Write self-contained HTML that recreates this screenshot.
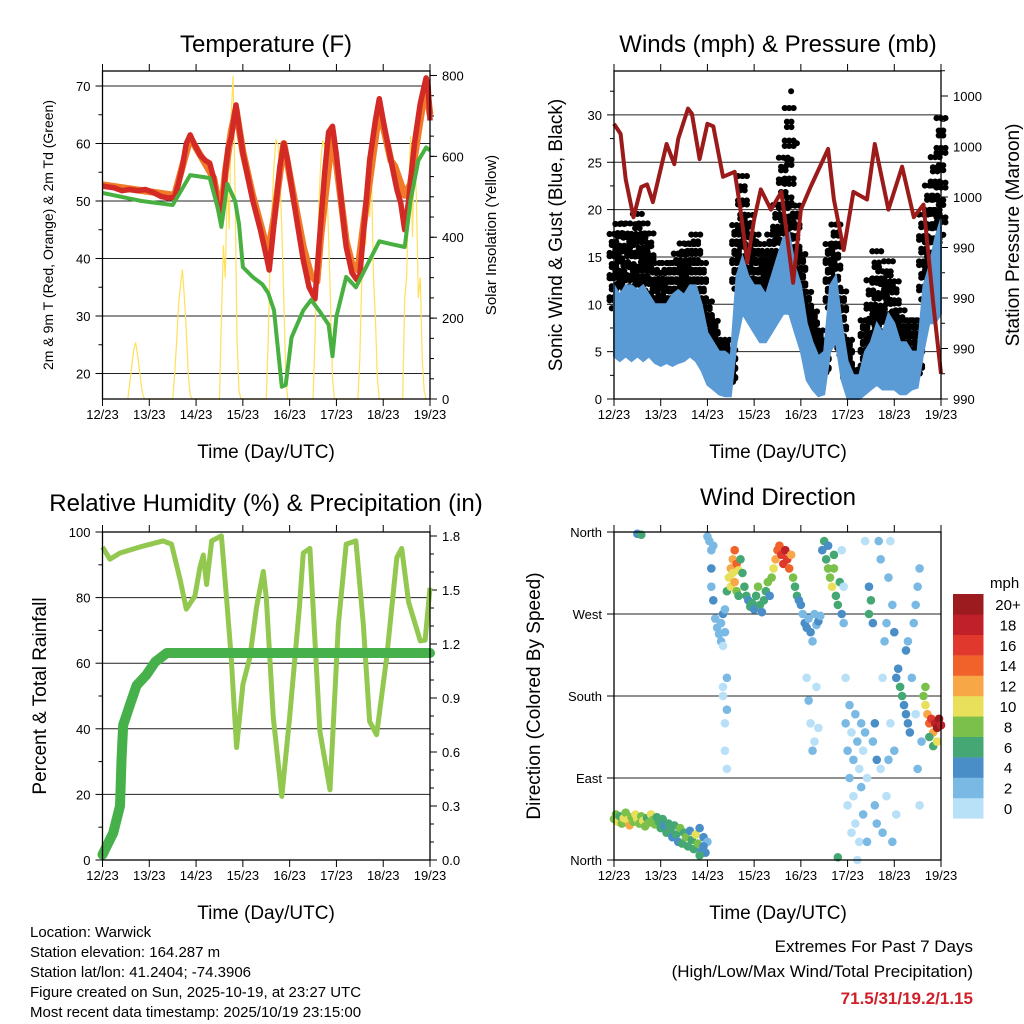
<!DOCTYPE html>
<html><head><meta charset="utf-8"><style>
html,body{margin:0;padding:0;background:#fff;}
svg{display:block;font-family:"Liberation Sans",sans-serif;}
</style></head><body>
<svg id="fig" width="1024" height="1024" viewBox="0 0 1024 1024" xmlns="http://www.w3.org/2000/svg">
<g id="titles" font-size="24" text-anchor="middle">
<text x="266" y="52">Temperature (F)</text>
<text x="778" y="52">Winds (mph) &amp; Pressure (mb)</text>
<text x="266" y="511">Relative Humidity (%) &amp; Precipitation (in)</text>
<text x="778" y="505">Wind Direction</text>
</g>
<g font-size="19" text-anchor="middle">
<text x="266" y="458">Time (Day/UTC)</text>
<text x="778" y="458">Time (Day/UTC)</text>
<text x="266" y="919">Time (Day/UTC)</text>
<text x="778" y="919">Time (Day/UTC)</text>
</g>
<text transform="translate(53,235) rotate(-90)" font-size="14" text-anchor="middle">2m &amp; 9m T (Red, Orange) &amp; 2m Td (Green)</text>
<text transform="translate(496,235) rotate(-90)" font-size="15" text-anchor="middle">Solar Insolation (Yellow)</text>
<text transform="translate(562,235) rotate(-90)" font-size="19" text-anchor="middle">Sonic Wind &amp; Gust (Blue, Black)</text>
<text transform="translate(1019,235) rotate(-90)" font-size="19" text-anchor="middle">Station Pressure (Maroon)</text>
<text transform="translate(46,696) rotate(-90)" font-size="19" text-anchor="middle">Percent &amp; Total Rainfall</text>
<text transform="translate(540,696) rotate(-90)" font-size="19" text-anchor="middle">Direction (Colored By Speed)</text>
<g font-size="15">
<text x="30" y="937">Location: Warwick</text>
<text x="30" y="957">Station elevation: 164.287 m</text>
<text x="30" y="977">Station lat/lon: 41.2404; -74.3906</text>
<text x="30" y="997">Figure created on Sun, 2025-10-19, at 23:27 UTC</text>
<text x="30" y="1017">Most recent data timestamp: 2025/10/19 23:15:00</text>
</g>
<g font-size="17" text-anchor="end">
<text x="973" y="952">Extremes For Past 7 Days</text>
<text x="973" y="977">(High/Low/Max Wind/Total Precipitation)</text>
<text x="973" y="1004" fill="#d0202a" font-weight="bold">71.5/31/19.2/1.15</text>
</g>
</svg>
<script>
// ---------- data ----------
const dayLabels = ["12/23","13/23","14/23","15/23","16/23","17/23","18/23","19/23"];
const tempT = [0,6,10,14,18,22,26,30,34,37,39,41,43,45,47,50,53,55,57,58.5,61,63,64.5,66,68.5,70,72,77,81,84.5,85.5,88,91,93,95,98,103,106,109,111,114,116,118,120,125,128,130.5,132,134,137,140,142,144,148,151,153,155,157,160,163,166,167,168];
const tempV = [52.6,52.3,51.8,52,51.8,52,51.5,50.8,50.5,50.7,53,56,60,61.5,60,58,57,56.6,54,50.2,46.7,55,59.4,61,66.7,63,58.3,50.2,45,39.7,38,46,56,60,57,50.2,39.7,35,33,42,55,62,63,58,42,37.5,36.3,37,45,57,64,67.8,64,57,52,49.6,45,50,60,67,71.4,70,64];
const temp9T = [0,37,45,57,58.5,61,63,66,68.5,72,77,81,85,88,93,98,103,107,110,112,118,125,128,131,134,142,148,150,153,155,158,162,166,168];
const temp9V = [52.8,51,61,54,51.5,48,55,62,66,58.5,51,46,41,47,60,51,42,37,36,44,62,43,39,38,46,66,57,56,53,51,53,62,70.5,65];
const dewT = [0,20,36,45,55,59,61,64,68,70,72,77,82,85,88,92,94,97,103,107,111,116,118,120,125,130,137,142,148,155,158,162,166,168];
const dewV = [51.4,50,49.3,54.5,54,49,45.5,53,50,46,38.5,36.8,35.5,34,31,17.7,18,26.3,31,32.8,31,28.5,23,29.9,36.8,35,39.7,43,42.5,42,50,57,59.3,58.8];
const solarH = [13,14,15,16,17,18,19,20,21,22, 36,37,38,39,40,41,42,43,44,45,46, 60,61,62,63,64,65,66,67,68,69,70,71, 84,85,86,87,88,89,90,91,92,93,94,95, 108,109,110,111,112,113,114,115,116,117,118,119, 131,132,133,134,135,136,137,138,139,140,141,142, 154,155,156,157,158,159,160,161,162,163,164,165,166];
const solarV = [0,40,80,120,140,110,70,30,5,0, 0,60,140,230,280,320,250,170,60,10,0, 0,200,380,300,550,420,700,800,500,150,20,0, 0,150,330,480,580,640,630,560,420,250,60,0, 0,150,330,480,590,640,620,540,400,230,50,0, 0,100,300,480,380,600,450,560,300,200,50,0, 0,250,300,500,650,400,620,500,250,300,100,20,0];
const windT = [0,3,6,9,12,15,18,21,24,27,30,33,36,39,42,45,48,51,54,57,60,63,66,69,72,75,78,81,84,87,90,93,96,99,102,105,108,111,114,117,120,123,126,129,132,135,138,141,144,147,150,153,156,159,162,165,168];
const windLo = [4.5,4,4.5,4,4.5,4,4.5,3.8,3.5,3.8,3.5,3.8,4,4.5,4,3,1.5,1,0.5,0.3,0.3,6,9,8,7,6,6,7,8,9,9,7,5,2,1,0.3,0.5,5,6,2,0,0,0,0.5,1,1.5,1,1,1,0.5,0.5,1,1.2,5,8,8,9];
const windHi = [12,11,12,12,11.5,12,11,10,10,10,11,11.5,11,12,12,10,7,6,5,5,4.5,13,15,13,12,12,11,13,15,17,17.5,14,12,8,6,4.5,5,12,13,8,4,2.5,2.5,5,6,8,7,9,8,6,6,5,5,12,14,17,19];
const gustLo = [10,10,9,10,10,9,9,8,8,8,8,9,9,10,11,8,5,4,3,2,2,12,14,12,11,10,10,11,12,17,18,13,10,6,5,3,3,10,11,5,2,1.5,1.5,3,3,5,5,5,5,3,3,3,3,11,13,16,18];
const gustHi = [17,18,18,17,19,18,17,14,13,14,14,15,16,16,17,14,10,8,6,6,5,18,23,19,17,16,15,17,20,25,30,20,15,11,9,7,6,16,18,11,6,3,2.5,8,12,15,13,14,12,9,8,8,8,19,22,25,29];
const gustOutT = [91, 94];
const gustOutV = [32.5, 27];
const presT = [0,3.4,6,10,14,17,20,27,31,33,38,40,44,48,51,56,62,65,68.5,72,75.4,80.6,86,92,96,101,110,113,118,123,130,134,141,148,154,159,164,168];
const presV = [998.9,998.5,996.7,995.2,996.4,996.5,995.8,998.1,997.3,998.3,999.5,999.3,997.5,998.9,998.8,996.8,997.0,995.5,993.4,995.1,996.3,995.5,996.2,992.6,995.5,996.4,997.9,995.9,993.9,996.2,995.9,998.1,995.5,997.2,995.2,995.7,991.8,989.0];
const rhT = [0,3.8,9,19,31,35.4,40,43,47.4,50,51.7,53.4,56,61,63.6,66,68.8,72,75.6,79,82.5,84,87.6,92,96,101,103,106.4,111.5,116.7,121,125,130,133.8,137,140.6,145.8,151,153.5,157,163,165.5,168];
const rhV = [95.4,91.7,93.6,95.4,97.3,96.3,85,76.5,80.5,89.3,93,84,97.3,98.8,80,61.8,34.3,53.5,61.8,77,88,80,43.4,19.4,43.4,77,93.6,95,39.2,21.4,71.9,96.3,97.3,71.9,42.3,38.2,61.8,92.3,95,78.6,66.8,67,83];
const precT = [0,5.5,9,9.8,10.6,14,17.5,22.6,27,33,168];
const precV = [0.03,0.15,0.3,0.57,0.75,0.86,0.97,1.03,1.10,1.15,1.15];
const dirT = [0,1,2,3,4,5,6,7,8,9,10,11,12,13,14,15,16,17,18,19,20,21,22,
 23,24,25,26,27,28,29,30,31,32,33,34,35,36,37,38,39,40,41,42,43,44,45,46,47,48,44,46,
 12,14,48,49,50,51,50,
 50,51,52,53,54,55,56,57,55,57,56,
 56,57,57,58,58,56,58,
 58,59,60,60,61,62,61,62,63,64,63,64,
 65,66,67,68,69,70,71,72,73,74,75,76,77,78,79,80,81,82,
 83,84,85,86,87,88,89,90,91,92,93,94,95,96,
 97,98,99,100,101,102,103,104,105,106,99,100,101,103,105,104,102,
 107,108,109,110,111,112,113,114,115,116,117,113,110,118,
 117,118,119,119,120,120,121,121,122,122,123,123,124,124,125,125,126,126,127,127,128,128,129,129,130,130,131,131,132,133,133,134,134,135,135,136,137,137,138,138,139,140,140,141,141,142,142,143,143,144,144,145,145,
 146,147,148,149,150,151,152,150,151,153,154,155,156,156,157,157,155,158,
 159,160,161,162,163,164,165,166,167,168,162,164,166,160,115];
const dirD = [45,50,42,48,40,46,52,44,38,47,42,50,45,40,48,43,37,46,41,50,44,39,47,
 42,35,45,38,30,40,33,25,38,28,20,35,18,30,25,15,32,22,12,28,18,35,10,25,8,20,5,15,
 358,357,355,350,340,345,320,
 300,285,265,255,248,260,270,250,240,275,235,
 190,150,120,200,100,180,165,
 295,310,300,320,330,340,315,305,325,318,295,290,
 330,315,300,290,285,278,282,275,290,300,280,272,285,295,305,290,310,320,
 330,340,345,335,325,340,330,320,335,310,300,290,285,280,
 270,260,255,265,250,240,270,258,262,268,200,175,150,130,145,190,120,
 340,350,330,320,310,300,320,290,280,305,270,335,345,260,
 340,300,200,150,120,60,90,170,140,30,110,70,160,40,130,0,100,20,150,80,120,50,350,140,90,20,300,270,285,260,130,150,60,110,40,350,330,100,30,200,240,260,70,310,110,350,150,280,20,250,120,200,50,
 210,190,180,170,160,150,140,230,240,200,260,280,100,300,320,60,160,130,
 180,170,160,150,155,140,150,145,155,148,135,125,130,190,3];
const dirS = [9,8,10,7,8,11,9,10,12,9,8,10,11,9,8,10,9,7,8,10,9,8,6,
 7,6,7,5,6,7,6,5,7,6,5,8,6,7,9,6,5,7,6,10,8,4,5,4,4,3,7,5,
 4,7,3,3,3,2,4,
 3,4,3,2,2,3,4,2,2,3,1,
 1,1,1,2,1,1,2,
 7,10,11,12,13,14,11,12,14,10,8,6,
 7,6,7,6,5,6,7,5,6,8,6,4,6,7,8,5,9,10,
 12,14,15,16,17,18,16,14,13,9,7,6,5,4,
 3,4,4,3,4,3,2,3,4,3,1,2,1,1,1,1,2,
 5,6,7,8,9,10,8,6,7,6,4,7,4,3,
 1,1,1,2,2,1,3,2,1,1,2,1,3,1,2,1,1,1,2,3,1,2,1,2,1,3,4,6,7,5,3,4,3,4,2,3,2,1,2,1,2,2,1,2,2,1,1,3,2,4,3,4,1,
 5,6,7,4,4,4,4,4,3,3,2,2,2,2,2,1,1,2,
 8,10,12,14,16,13,18,20,22,18,7,6,11,9,6];
const cbLabels = ["0","2","4","6","8","10","12","14","16","18","20+"];
const cbColors = ["#b8e0f7","#7bb9e5","#4a8ec8","#45a874","#7ac04b","#e8df5a","#f7a746","#f0622a","#e0382c","#c0202a","#9b1b1e"];

// ---------- helpers ----------
const NS = "http://www.w3.org/2000/svg";
const svg = document.getElementById("fig");
function mk(tag, attrs, parent) {
  const e = document.createElementNS(NS, tag);
  for (const k in attrs) e.setAttribute(k, attrs[k]);
  (parent || svg).appendChild(e);
  return e;
}
function txt(s, x, y, size, anchor, parent) {
  const t = mk("text", {x: x, y: y, "font-size": size, "text-anchor": anchor}, parent);
  t.textContent = s;
  return t;
}
function pathD(ts, vs, fx, fy) {
  let d = "";
  for (let i = 0; i < ts.length; i++) d += (i ? "L" : "M") + fx(ts[i]).toFixed(1) + "," + fy(vs[i]).toFixed(1);
  return d;
}
function makePanel(name, x0, x1, y0, y1) {
  const g = mk("g", {});
  
  
  const fx = t => x0 + t / 168 * (x1 - x0);
  return {g, x0, x1, y0, y1, fx};
}
function frame(P) {
  const f = mk("rect", {x: P.x0, y: P.y0, width: P.x1 - P.x0, height: P.y1 - P.y0, fill: "none", stroke: "#000", "stroke-width": 1.3}, P.g);
  
  
  const xa = mk("g", {}, P.g);
  
  
  for (let i = 0; i < dayLabels.length; i++) {
    const x = P.fx(i * 24);
    mk("line", {x1: x, x2: x, y1: P.y1, y2: P.y1 + 7, stroke: "#000"}, xa);
    mk("line", {x1: x, x2: x, y1: P.y0, y2: P.y0 - 7, stroke: "#000"}, xa);
    const l = txt(dayLabels[i], x, P.y1 + 20, 13, "middle", xa);
    
    
  }
}
function yAxis(P, side, vals, labels, fy, minor, grid) {
  const ax = mk("g", {}, P.g);
  
  
  const xe = side === "left" ? P.x0 : P.x1;
  const dir = side === "left" ? -1 : 1;
  for (const m of minor) { const y = fy(m); if (y >= P.y0 - 0.5 && y <= P.y1 + 0.5) mk("line", {x1: xe, x2: xe + dir * 4, y1: y, y2: y, stroke: "#000"}, ax); }
  for (let i = 0; i < vals.length; i++) {
    const y = fy(vals[i]);
    mk("line", {x1: xe, x2: xe + dir * 7, y1: y, y2: y, stroke: "#000"}, ax);
    if (grid) mk("line", {x1: P.x0, x2: P.x1, y1: y, y2: y, stroke: "#222", "stroke-width": 1}, P.g);
    const l = txt(labels[i], xe + dir * 12, y + 5, 13, side === "left" ? "end" : "start", ax);
    
    
  }
}

// ---------- panel 1: temperature ----------
{
  const P = makePanel("temperature-panel", 102.5, 430, 71, 399);
  const fy = v => 86 + (70 - v) * 5.75;
  const fs = w => 399 - w * 0.4044;
  const tv = [20,30,40,50,60,70];
  yAxis(P, "left", tv, tv.map(String), fy, [15,25,35,45,55,65], true);
  const sv = [0,200,400,600,800];
  const smin = []; for (let w = 50; w <= 800; w += 50) smin.push(w);
  yAxis(P, "right", sv, sv.map(String), fs, smin, false);
  const s = mk("path", {d: pathD(solarH, solarV, P.fx, fs), fill: "none", stroke: "#ffe05a", "stroke-width": 1.2}, P.g);
  
  
  const o = mk("path", {d: pathD(temp9T, temp9V, P.fx, fy), fill: "none", stroke: "#f07a28", "stroke-width": 7, "stroke-linejoin": "round"}, P.g);
  
  
  const r = mk("path", {d: pathD(tempT, tempV, P.fx, fy), fill: "none", stroke: "#d42a26", "stroke-width": 5.5, "stroke-linejoin": "round"}, P.g);
  
  
  const d = mk("path", {d: pathD(dewT, dewV, P.fx, fy), fill: "none", stroke: "#48b040", "stroke-width": 4, "stroke-linejoin": "round"}, P.g);
  
  
  frame(P);
}

// ---------- panel 2: winds & pressure ----------
{
  const P = makePanel("winds-panel", 614, 941, 71, 399);
  const fy = v => 399 - v * 9.47;
  const fp = p => 399 - (p - 988) * 25.25;
  const wv = [0,5,10,15,20,25,30];
  yAxis(P, "left", wv, wv.map(String), fy, [2.5,7.5,12.5,17.5,22.5,27.5,32.5], true);
  const pv = [988,990,992,994,996,998,1000];
  yAxis(P, "right", pv, pv.map(p => String(Math.round(p / 10) * 10)), fp, [989,991,993,995,997,999,1001], false);
  const gg = mk("g", {fill: "#000"}, P.g);
  
  
  for (let i = 0; i < windT.length; i++) {
    const x = P.fx(windT[i]);
    const steps = 6;
    for (let k = 0; k <= steps; k++) {
      const v = gustLo[i] + (gustHi[i] - gustLo[i]) * k / steps;
      for (let j = -2; j <= 2; j++) {
        const jitter = ((k + j) % 2 === 0 ? 0.06 : -0.06) * (gustHi[i] - gustLo[i]);
        const c = mk("circle", {cx: x + j * 2.2, cy: fy(v + jitter), r: 3.1}, gg);
        
        
      }
    }
  }
  for (let i = 0; i < gustOutT.length; i++) {
    const c = mk("circle", {cx: P.fx(gustOutT[i]), cy: fy(gustOutV[i]), r: 3}, gg);
    
    
  }
  let d = "";
  for (let i = 0; i < windT.length; i++) d += (i ? "L" : "M") + P.fx(windT[i]).toFixed(1) + "," + fy(windHi[i]).toFixed(1);
  for (let i = windT.length - 1; i >= 0; i--) d += "L" + P.fx(windT[i]).toFixed(1) + "," + fy(windLo[i]).toFixed(1);
  const b = mk("path", {d: d + "Z", fill: "#5b9bd5", stroke: "#5b9bd5", "stroke-width": 2}, P.g);
  
  
  const pr = mk("path", {d: pathD(presT, presV, P.fx, fp), fill: "none", stroke: "#9b1b1b", "stroke-width": 4, "stroke-linejoin": "round"}, P.g);
  
  
  frame(P);
}

// ---------- panel 3: humidity & precipitation ----------
{
  const P = makePanel("humidity-panel", 102.5, 430, 532, 860);
  const fy = v => 860 - v * 3.28;
  const fp = p => 860 - p * 180;
  const rv = [0,20,40,60,80,100];
  yAxis(P, "left", rv, rv.map(String), fy, [10,30,50,70,90], false);
  for (const g of [20,40,60,80]) {
    const l = mk("line", {x1: P.x0, x2: P.x1, y1: fy(g), y2: fy(g), stroke: "#222"}, P.g);
    
    
  }
  const pv = [0,0.3,0.6,0.9,1.2,1.5,1.8];
  const pm = []; for (let p = 0.1; p < 1.8; p += 0.1) pm.push(p);
  yAxis(P, "right", pv, pv.map(p => p.toFixed(1)), fp, pm, false);
  const rh = mk("path", {d: pathD(rhT, rhV, P.fx, fy), fill: "none", stroke: "#92c84f", "stroke-width": 5, "stroke-linejoin": "round"}, P.g);
  
  
  const pr = mk("path", {d: pathD(precT, precV, P.fx, fp), fill: "none", stroke: "#46b04a", "stroke-width": 10, "stroke-linecap": "round", "stroke-linejoin": "round"}, P.g);
  
  
  frame(P);
}

// ---------- panel 4: wind direction ----------
{
  const P = makePanel("wind-direction-panel", 614, 941, 532, 860);
  const fy = d => 860 - d / 360 * 328;
  const dv = [0,90,180,270,360];
  yAxis(P, "left", dv, ["North","East","South","West","North"], fy, [], true);
  const g = mk("g", {}, P.g);
  
  
  for (let i = 0; i < dirT.length; i++) {
    const ci = Math.min(10, Math.floor(dirS[i] / 2));
    const c = mk("circle", {cx: P.fx(dirT[i]), cy: fy(dirD[i]), r: 4.3, fill: cbColors[ci]}, g);
    
    
  }
  frame(P);
  const cb = mk("g", {});
  
  
  const mph = txt("mph", 990, 588, 15, "start", cb);
  
  
  for (let i = 0; i < cbColors.length; i++) {
    const y = 594 + (10 - i) * 20.4;
    const r = mk("rect", {x: 953, y: y, width: 30.5, height: 20.6, fill: cbColors[i]}, cb);
    
    
    const l = txt(cbLabels[i], 1008, y + 16, 15, "middle", cb);
    
    
  }
}
</script>
</body></html>
